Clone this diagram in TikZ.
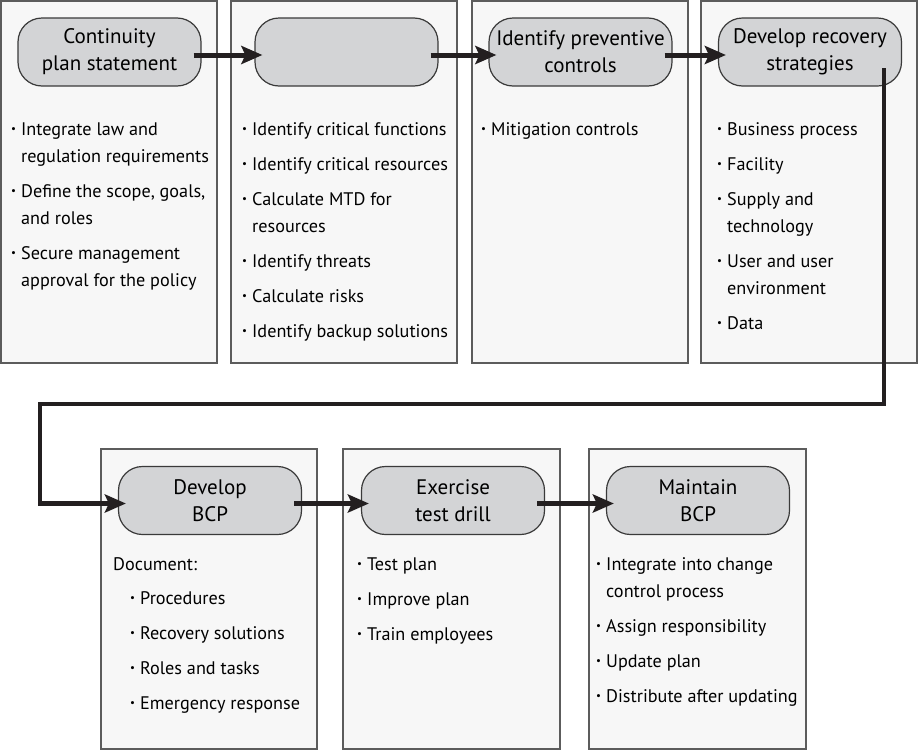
\documentclass[tikz,border=0pt]{standalone}
\usepackage{fontspec}
\setmainfont{PT Sans}
\usepackage{graphicx}
\usepackage{xcolor}
\usetikzlibrary{arrows.meta, calc, positioning}

\definecolor{panelfill}{HTML}{F7F7F7}
\definecolor{panelline}{HTML}{5C5C5C}
\definecolor{stagefill}{HTML}{D3D4D6}
\definecolor{stageline}{HTML}{3A3A3A}
\definecolor{flowline}{HTML}{231F20}

% bullet and hanging indent
\newcommand{\bdot}{\makebox[10pt][l]{\raisebox{0.3ex}{\scalebox{0.6}{\textbullet}}}}
\newcommand{\bhang}{\hspace*{10pt}}

\tikzset{
  panel/.style={draw=panelline, line width=1.3pt, fill=panelfill},
  stage/.style={draw=stageline, line width=1.2pt, fill=stagefill, rounded corners=24pt,
    minimum width=183pt, minimum height=68pt, inner sep=0pt, align=center,
    font=\fontsize{21}{27}\selectfont},
  bullets/.style={anchor=north west, align=left, inner sep=0pt,
    font=\fontsize{18.2}{27}\selectfont},
  flow/.style={-{Stealth[length=21pt, width=18pt, inset=4pt]}, line width=5pt,
    draw=flowline, shorten <=-8pt, shorten >=-8pt}
}

\begin{document}
\begin{tikzpicture}[x=1pt, y=-1pt]
    \useasboundingbox (0,0) rectangle (918,750);

    % 1. Panels
    \draw[panel] (1,1) rectangle (217,363);
    \draw[panel] (231,1) rectangle (457,363);
    \draw[panel] (472,1) rectangle (688,363);
    \draw[panel] (701,1) rectangle (917,363);
    \draw[panel] (101,449) rectangle (317,749);
    \draw[panel] (343,449) rectangle (560,749);
    \draw[panel] (589,449) rectangle (806,749);

    % 2. Stages
    \node[stage] (cps) at (109.5,52) {Continuity\\plan statement};
    \node[stage] (bia) at (346.5,52) {};
    \node[stage] (ipc) at (580.5,52) {Identify preventive\\controls};
    \node[stage] (drs) at (810,52) {Develop recovery\\strategies};
    \node[stage] (dbcp) at (210,500.5) {Develop\\BCP};
    \node[stage] (etd) at (453,500.5) {Exercise\\test drill};
    \node[stage] (mbcp) at (698,500.5) {Maintain\\BCP};

    % 3. Bullet lists (first baseline = top + strut height)
    \node[bullets] (l1) at (11,116) {%
        \strut\bdot Integrate law and\\ \bhang regulation requirements\\[8pt]
        \bdot Define the scope, goals,\\ \bhang and roles\\[8pt]
        \bdot Secure management\\ \bhang approval for the policy};
    \node[bullets] (l2) at (242,116) {%
        \strut\bdot Identify critical functions\\[8pt]
        \bdot Identify critical resources\\[8pt]
        \bdot Calculate MTD for\\ \bhang resources\\[8pt]
        \bdot Identify threats\\[8pt]
        \bdot Calculate risks\\[8pt]
        \bdot Identify backup solutions};
    \node[bullets] (l3) at (481,116) {\strut\bdot Mitigation controls};
    \node[bullets] (l4) at (717,116) {%
        \strut\bdot Business process\\[8pt]
        \bdot Facility\\[8pt]
        \bdot Supply and\\ \bhang technology\\[8pt]
        \bdot User and user\\ \bhang environment\\[8pt]
        \bdot Data};
    \node[bullets] (l5) at (113,551) {%
        \strut Document:\\[7pt]
        \hspace*{17pt}\bdot Procedures\\[8pt]
        \hspace*{17pt}\bdot Recovery solutions\\[8pt]
        \hspace*{17pt}\bdot Roles and tasks\\[8pt]
        \hspace*{17pt}\bdot Emergency response};
    \node[bullets] (l6) at (357,551) {%
        \strut\bdot Test plan\\[8pt]
        \bdot Improve plan\\[8pt]
        \bdot Train employees};
    \node[bullets] (l7) at (596,551) {%
        \strut\bdot Integrate into change\\ \bhang control process\\[8pt]
        \bdot Assign responsibility\\[8pt]
        \bdot Update plan\\[8pt]
        \bdot Distribute after updating};

    % 4. Flow arrows
    \draw[flow] ([yshift=-3pt]cps.east) -- ([yshift=-3pt]bia.west);
    \draw[flow] ([yshift=-3pt]bia.east) -- ([yshift=-3pt]ipc.west);
    \draw[flow] ([yshift=-3pt]ipc.east) -- ([yshift=-3pt]drs.west);
    \coordinate (turn) at (40,404);
    \draw[flow, shorten <=0pt, line width=4.5pt] ([xshift=-18pt, yshift=-16pt]drs.east) |- (turn) |- ([yshift=-3pt]dbcp.west);
    \draw[flow] ([yshift=-3pt]dbcp.east) -- ([yshift=-3pt]etd.west);
    \draw[flow] ([yshift=-3pt]etd.east) -- ([yshift=-3pt]mbcp.west);
\end{tikzpicture}
\end{document}
